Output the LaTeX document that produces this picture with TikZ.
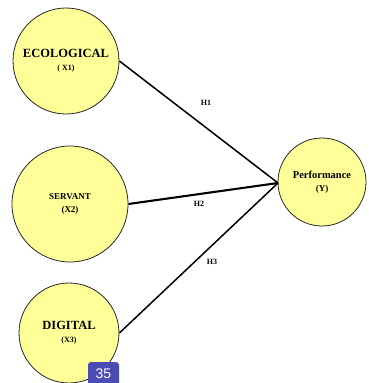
\documentclass[tikz,border=0pt]{standalone}
\usepackage{fontspec}
\setmainfont{Liberation Serif}
\newfontfamily\badgefont{Liberation Sans}
\definecolor{varfill}{RGB}{255,255,153}
\definecolor{badgeblue}{RGB}{75,75,180}
\begin{document}
\begin{tikzpicture}[x=1pt,y=-1pt,
  var/.style={circle,draw=black!85,line width=0.8pt,fill=varfill,inner sep=0pt,align=center,font=\bfseries},
  link/.style={draw=black,line width=1.5pt},
  hlab/.style={font=\bfseries\fontsize{8}{9}\selectfont,inner sep=0pt}]
\useasboundingbox (0,0) rectangle (368,383);
\node[var,minimum size=106pt] (eco) at (66,61) {\fontsize{12.5}{13}\selectfont ECOLOGICAL\\[1pt]\fontsize{8}{9}\selectfont ( X1)};
\node[var,minimum size=116pt] (ser) at (70,204) {\fontsize{9}{10}\selectfont SERVANT\\[1pt]\fontsize{9}{10}\selectfont (X2)};
\node[var,minimum size=100pt] (dig) at (69,333) {\fontsize{12.5}{13}\selectfont DIGITAL\\[1pt]\fontsize{8}{9}\selectfont (X3)};
\node[var,minimum size=88pt] (perf) at (322,182) {\fontsize{10.5}{11}\selectfont Performance\\[1pt]\fontsize{9}{10}\selectfont (Y)};
\coordinate (meet) at (278,183);
\draw[link] (eco.east) -- (meet);
\draw[link,line width=2.1pt] (ser.east) -- (meet);
\draw[link] (dig.east) -- (meet);
\node[hlab] (h1) at (206,103) {H1};
\node[hlab] (h2) at (199,204) {H2};
\node[hlab] (h3) at (212,262) {H3};
\fill[badgeblue,rounded corners=3pt] (88,362) rectangle (119,390);
\node[text=white,font=\badgefont\fontsize{14}{14}\selectfont,inner sep=0pt] (badge) at (103.5,374) {35};
\end{tikzpicture}
\end{document}
